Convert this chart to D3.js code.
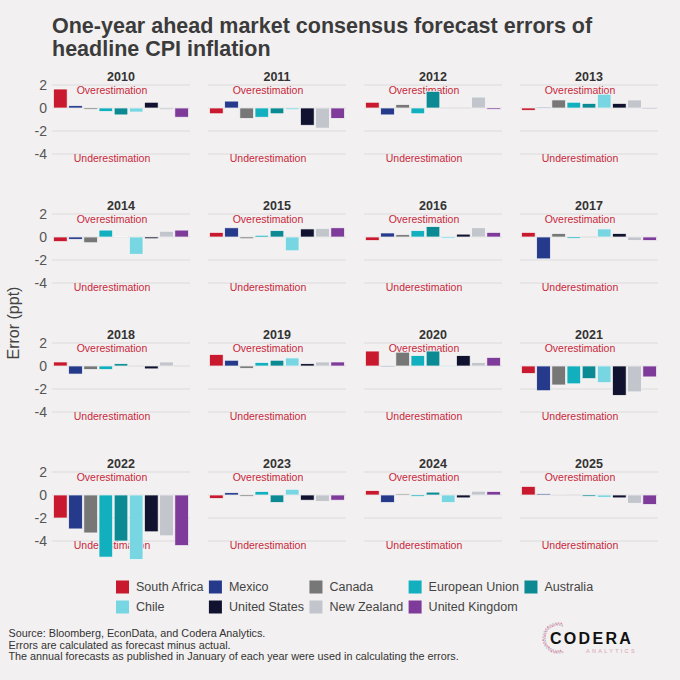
<!DOCTYPE html>
<html>
<head>
<meta charset="utf-8">
<script src="https://cdn.jsdelivr.net/npm/d3@7"></script>
<style>
  html, body { margin: 0; padding: 0; background: #f2f0f0; }
  svg { display: block; font-family: "Liberation Sans", Arial, sans-serif; }
</style>
</head>
<body>
<svg id="chart" width="680" height="680"></svg>
<script>
// ---------------- data ----------------
const countries = ["South Africa", "Mexico", "Canada", "European Union", "Australia",
                   "Chile", "United States", "New Zealand", "United Kingdom"];
const countryColors = ["#c8192e", "#263a8c", "#777777", "#12b0bf", "#0b8a94",
                       "#78d6e3", "#10122f", "#c3c5cc", "#7e3b9a"];
const years = [2010, 2011, 2012, 2013, 2014, 2015, 2016, 2017,
               2018, 2019, 2020, 2021, 2022, 2023, 2024, 2025];
// forecast minus actual, ppt, one value per year
const southAfrica   = [1.65, -0.5, 0.5, -0.2, -0.4, 0.4, -0.3, 0.4, 0.35, 1.0, 1.3, -0.65, -2.0, -0.3, 0.38, 0.75];
const mexico        = [0.2, 0.6, -0.6, 0.08, -0.2, 0.8, 0.35, -1.9, -0.7, 0.5, -0.08, -2.15, -2.95, 0.2, -0.65, 0.1];
const canada        = [-0.12, -0.9, 0.3, 0.7, -0.5, -0.15, 0.2, 0.3, -0.3, -0.2, 1.2, -1.65, -3.3, -0.12, 0.1, -0.03];
const europeanUnion = [-0.3, -0.8, -0.5, 0.5, 0.6, 0.15, 0.55, -0.12, -0.3, 0.3, 0.9, -1.55, -5.4, 0.3, -0.12, 0];
const australia     = [-0.6, -0.5, 1.45, 0.4, 0.05, 0.55, 0.9, 0, 0.2, 0.5, 1.3, -1.1, -4.0, -0.65, 0.25, -0.12];
const chile         = [-0.35, -0.15, 0, 1.2, -1.5, -1.2, -0.12, 0.7, 0, 0.7, -0.08, -1.45, -5.6, 0.5, -0.65, -0.2];
const unitedStates  = [0.5, -1.5, 0, 0.4, -0.15, 0.7, 0.25, 0.3, -0.25, 0.2, 0.9, -2.55, -3.2, -0.45, -0.25, -0.25];
const newZealand    = [-0.15, -1.75, 0.95, 0.7, 0.5, 0.75, 0.8, -0.3, 0.35, 0.35, 0.3, -2.25, -3.55, -0.55, 0.33, -0.72];
const unitedKingdom = [-0.8, -0.9, -0.12, -0.08, 0.6, 0.8, 0.4, -0.3, 0, 0.35, 0.75, -0.95, -4.4, -0.45, 0.3, -0.82];
const yTicks = [2, 0, -2, -4];

const seriesValues = [southAfrica, mexico, canada, europeanUnion, australia,
                      chile, unitedStates, newZealand, unitedKingdom];

const titleLines = ["One-year ahead market consensus forecast errors of", "headline CPI inflation"];
const footLines = ["Source: Bloomberg, EconData, and Codera Analytics.",
                   "Errors are calculated as forecast minus actual.",
                   "The annual forecasts as published in January of each year were used in calculating the errors."];

// ---------------- layout ----------------
const svg = d3.select("#chart");
const nCols = 4;
const panelW = 138, colStep = 156, left0 = 52;
const rowTop0 = 85, rowStep = 129;   // y of "+2" gridline in each row
const redText = "#c8283c";

svg.append("rect").attr("width", 680).attr("height", 680).attr("fill", "#f2f0f0");

// title
svg.append("g").selectAll("text").data(titleLines).join("text")
  .attr("x", 52).attr("y", (d, i) => 33 + i * 23)
  .attr("font-size", 21.5).attr("font-weight", "bold").attr("fill", "#3b3b3b")
  .text(d => d);

const x = d3.scaleBand().domain(countries).range([0, panelW]).paddingInner(0.1).paddingOuter(0.1);

years.forEach((yr, i) => {
  const col = i % nCols, row = Math.floor(i / nCols);
  const gx = left0 + col * colStep;
  const top = rowTop0 + row * rowStep;
  const y = d3.scaleLinear().domain([-4, 2]).range([top + 69, top]);
  const g = svg.append("g").attr("transform", `translate(${gx},0)`);

  // gridlines
  g.append("g").selectAll("line").data(yTicks).join("line")
    .attr("x1", 0).attr("x2", panelW)
    .attr("y1", d => y(d)).attr("y2", d => y(d))
    .attr("stroke", "#dcdbdb").attr("stroke-width", 1);

  // y axis labels on left column
  if (col === 0) {
    const ax = d3.axisLeft(y).tickValues(yTicks).tickSize(0).tickPadding(5)
      .tickFormat(d => d < 0 ? "-" + Math.abs(d) : String(d));
    const axG = svg.append("g").attr("transform", `translate(${gx},0)`).call(ax);
    axG.select(".domain").remove();
    axG.selectAll("text").attr("font-size", 14).attr("fill", "#555")
      .attr("font-family", "'Liberation Sans', Arial, sans-serif");
  }

  // year title
  g.append("text").attr("x", panelW / 2).attr("y", top - 4.5)
    .attr("text-anchor", "middle").attr("font-size", 12.5).attr("font-weight", "bold")
    .attr("fill", "#333").text(yr);

  // annotations
  g.append("text").attr("x", 60).attr("y", y(1.5)).attr("dy", "0.35em")
    .attr("text-anchor", "middle").attr("font-size", 10.5).attr("fill", redText)
    .text("Overestimation");
  g.append("text").attr("x", 60).attr("y", y(-4.35)).attr("dy", "0.35em")
    .attr("text-anchor", "middle").attr("font-size", 10.5).attr("fill", redText)
    .text("Underestimation");

  // bars
  const data = countries.map((c, k) => ({ c, k, v: seriesValues[k][i] }));
  g.append("g").selectAll("rect").data(data).join("rect")
    .attr("x", d => x(d.c))
    .attr("width", x.bandwidth())
    .attr("y", d => Math.min(y(d.v), y(0)))
    .attr("height", d => Math.abs(y(d.v) - y(0)))
    .attr("fill", d => countryColors[d.k])
    .attr("stroke", "#f7f7f7").attr("stroke-width", d => d.v === 0 ? 0 : 0.7);
});

// y axis title
svg.append("text").attr("transform", "translate(19,323) rotate(-90)")
  .attr("text-anchor", "middle").attr("font-size", 16).attr("fill", "#444")
  .text("Error (ppt)");

// legend
const legendRows = [[0, 1, 2, 3, 4], [5, 6, 7, 8]];
const lg = svg.append("g");
const measure = lg.append("text").attr("font-size", 12.5);
const colWidths = [0, 1, 2, 3, 4].map(ci => {
  let w = 0;
  legendRows.forEach(r => { if (r[ci] !== undefined) { measure.text(countries[r[ci]]); w = Math.max(w, measure.node().getComputedTextLength()); } });
  return w;
});
measure.remove();
const colX = [116];
for (let ci = 1; ci < 5; ci++) colX.push(colX[ci - 1] + 20 + colWidths[ci - 1] + 5.5);
legendRows.forEach((r, ri) => {
  r.forEach((k, ci) => {
    const cy = 587 + ri * 20;
    lg.append("rect").attr("x", colX[ci]).attr("y", cy - 6.5).attr("width", 13).attr("height", 13)
      .attr("fill", countryColors[k]);
    lg.append("text").attr("x", colX[ci] + 20).attr("y", cy).attr("dy", "0.35em")
      .attr("font-size", 12.5).attr("fill", "#444").text(countries[k]);
  });
});

// footer
svg.append("g").selectAll("text").data(footLines).join("text")
  .attr("x", 8.5).attr("y", (d, i) => 637 + i * 11.5)
  .attr("font-size", 10.8).attr("fill", "#333").text(d => d);

// logo
const logo = svg.append("g");
const dotCols = ["#e7a9b8", "#c9cfdc", "#dc8aa0", "#b9c6d8", "#eab7c4"];
d3.range(0, 60).forEach(j => {
  const ang = (70 + j * 3.7) * Math.PI / 180;
  const rr = 13 + (j % 3);
  logo.append("circle")
    .attr("cx", 558 + rr * Math.cos(ang)).attr("cy", 638 - rr * Math.sin(ang))
    .attr("r", 0.9).attr("fill", dotCols[j % dotCols.length]);
});
logo.append("text").attr("x", 550).attr("y", 644).attr("font-size", 16)
  .attr("font-weight", "bold").attr("letter-spacing", 2.3).attr("fill", "#111")
  .text("CODERA");
logo.append("text").attr("x", 586).attr("y", 652.5).attr("font-size", 5.5)
  .attr("letter-spacing", 2.3).attr("fill", "#d9a3b1")
  .text("ANALYTICS");
</script>
</body>
</html>
